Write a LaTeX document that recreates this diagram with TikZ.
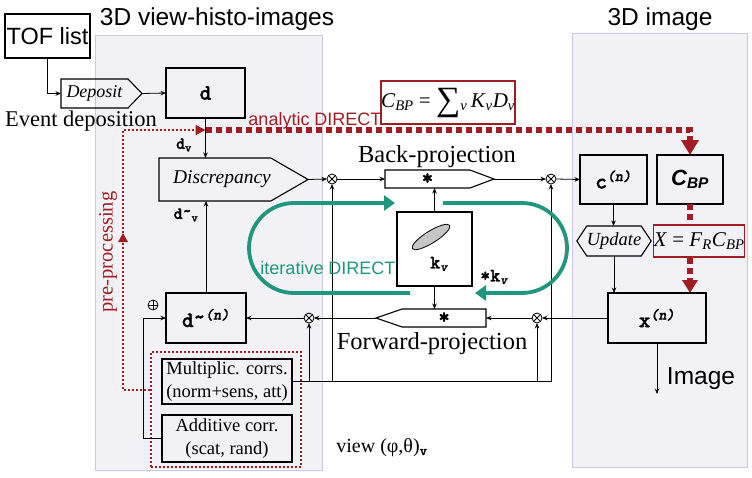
\documentclass[tikz,border=0pt]{standalone}
\usepackage{fontspec}
\setmainfont{Liberation Serif}
\setsansfont{Liberation Sans}
\newfontfamily\courb{lmmonolt10-bold.otf}[FakeBold=1.5]
\newfontfamily\courbi{lmmonolt10-boldoblique.otf}[FakeBold=1]
\usetikzlibrary{shapes.symbols,shapes.geometric,arrows.meta,calc}
\definecolor{dred}{RGB}{158,30,36}
\definecolor{tealc}{RGB}{32,150,126}
\definecolor{panelb}{RGB}{200,200,230}
\definecolor{panelf}{RGB}{242,242,246}
\newcommand{\fsz}[2]{\fontsize{#1pt}{#2pt}\selectfont}
\newcommand{\mytil}{\raisebox{0.35ex}{\textasciitilde}}
\newcommand{\ti}[1]{\textit{#1}}
\begin{document}
\begin{tikzpicture}[x=1pt,y=-1pt,
  box/.style={draw, line width=1.1pt, rectangle, inner sep=0pt, outer sep=0pt},
  sig/.style={draw, line width=1.1pt, signal, inner sep=0pt, outer sep=0pt},
  conn/.style={-{Stealth[length=5.5pt,width=4.5pt]}, line width=0.8pt},
  otm/.style={circle, draw, line width=0.8pt, minimum size=10pt, inner sep=0pt, outer sep=0pt,
    path picture={\draw[line width=0.8pt] (path picture bounding box.north west) -- (path picture bounding box.south east)
      (path picture bounding box.north east) -- (path picture bounding box.south west);}},
  opl/.style={circle, draw, line width=0.8pt, minimum size=10pt, inner sep=0pt, outer sep=0pt,
    path picture={\draw[line width=0.8pt] (path picture bounding box.north) -- (path picture bounding box.south)
      (path picture bounding box.east) -- (path picture bounding box.west);}},
  panel/.style={draw=panelb, fill=panelf, line width=0.8pt},
  bigsans/.style={font=\sffamily\fsz{24.5}{28}},
  bigserif/.style={font=\fsz{24.5}{28}},
  teallp/.style={draw=tealc, line width=3.8pt, -{Triangle[length=11pt,width=15pt]}},
  reddash/.style={draw=dred, line width=5.5pt, dash pattern=on 6pt off 4pt},
  reddot/.style={draw=dred, line width=2pt, dash pattern=on 2pt off 2pt},
  mono/.style={font=\courb\fsz{22}{26}}
]
\useasboundingbox (0,0) rectangle (752,477);
% panels
\path[panel] (95,35) rectangle (322,470);
\path[panel] (572,33) rectangle (747,467);
\node[bigsans, anchor=base] (t1) at (217,25) {3D view-histo-images};
\node[bigsans, anchor=base] (t2) at (660,25) {3D image};

% top-left
\node[box, minimum width=85pt, minimum height=44pt, font=\sffamily\fsz{23.5}{26}] (tof) at (47.5,36) {TOF list};
\node[sig, signal to=east, signal pointer angle=92, minimum width=81pt, minimum height=29pt, font=\itshape\fsz{18}{20}, anchor=west] (dep) at (61,93.5) {Deposit};
\node[box, minimum width=79pt, minimum height=50pt, mono] (dbox) at (205.5,93) {d};
\node[anchor=base, font=\fsz{22.5}{26}] (evt) at (81,126) {Event deposition};
\draw[conn] (tof.south) |- (dep.west);
\draw[conn] (dep.east) -- (dbox.west);

% analytic DIRECT
\node[draw=dred, line width=1.3pt, minimum width=126pt, minimum height=43pt, inner sep=0pt, font=\fsz{21}{24}] (cbpf) at (448,102.5) {\ti{C}\textsubscript{\ti{BP}} = \raisebox{-0.25ex}{\fsz{34}{34}∑}\textsubscript{\ti{v}}\,\ti{K}\textsubscript{\ti{v}}\ti{D}\textsubscript{\ti{v}}};
\node[anchor=base, font=\sffamily\fsz{18}{20}, text=dred] (ana) at (315,125) {analytic DIRECT};

% discrepancy row
\node[sig, signal to=east, signal pointer angle=60, minimum width=133pt, minimum height=43pt, font=\itshape\fsz{19.5}{22}, anchor=west] (disc) at (159,179.5) {\hspace*{14pt}Discrepancy};
\node[otm] (o1) at (332,179) {};
\node[sig, signal to=east, signal pointer angle=41, minimum width=109pt, minimum height=18pt, mono, anchor=west] (bp) at (385,179) {*};
\node[anchor=base, bigserif] (bpl) at (437,162) {Back-projection};
\node[otm] (o2) at (551,179) {};
\node[box, minimum width=67pt, minimum height=49pt] (cn) at (613.5,179.5) {\courb\fsz{22}{26}c\textsuperscript{\courbi (n)}};
\node[box, minimum width=66pt, minimum height=49pt] (cbp) at (690,179.5) {\sffamily\bfseries\itshape\fsz{22}{24}C\textsubscript{BP}};
\node[font=\courb\fsz{17}{20}] (dvl) at (184,145) {d\textsubscript{v}};

\draw[conn] (dbox.south) -- (dbox.south |- disc.north);
\draw[conn] (disc.east) -- (o1.west);
\draw[conn] (o1.east) -- (bp.west);
\draw[conn] (bp.east) -- (o2.west);
\draw[conn] (o2.east) -- (cn.west);

% update / formula / x(n)
\node[sig, signal to=east and west, signal pointer angle=113, minimum width=72pt, minimum height=30pt, font=\itshape\fsz{18.5}{20}] (upd) at (614,241) {Update};
\node[draw=dred, line width=1.3pt, minimum width=84pt, minimum height=32pt, inner sep=0pt, font=\fsz{21}{24}] (fx) at (699,241) {\ti{X} = \ti{F}\textsubscript{\ti{R}}\ti{C}\textsubscript{\ti{BP}}};
\node[box, minimum width=98pt, minimum height=50pt] (xn) at (657,318) {\courb\fsz{22}{26}x\textsuperscript{\courbi (n)}};
\node[anchor=base, bigsans] (img) at (701,384) {Image};
\coordinate (imgend) at (657,394);
\draw[conn] (cn.south) -- (cn.south |- upd.north);
\draw[conn] (upd.south) -- (upd.south |- xn.north);
\draw[conn] (xn.south) -- (imgend);

% kernel
\node[box, minimum width=75pt, minimum height=74pt] (kv) at (434.5,249) {};
\node[ellipse, draw, line width=0.8pt, fill=gray!45, minimum width=44pt, minimum height=12pt, inner sep=0pt, rotate=32] (ell) at (431,237) {};
\node[font=\courb\fsz{19}{22}] (kvl) at (439,264) {k\textsubscript{\courbi v}};
\node[font=\courb\fsz{19}{22}] (kvs) at (494,277) {*k\textsubscript{\courbi v}};

% forward row
\node[sig, signal to=west, signal pointer angle=38, minimum width=110pt, minimum height=18pt, mono, anchor=east] (fw) at (486,318) {*};
\node[anchor=base, bigserif] (fwl) at (432,349) {Forward-projection};
\node[otm] (o3) at (537,318) {};
\node[otm] (o4) at (309,318) {};
\node[box, minimum width=80pt, minimum height=50pt] (dtn) at (206,318) {\courb\fsz{22}{26}d\mytil\textsuperscript{\courbi (n)}};
\node[font=\courb\fsz{17}{20}] (dtvl) at (186,215) {d\mytil\textsubscript{v}};
\node[opl] (op) at (153,305) {};

\draw[conn] (kv.north) -- (kv.north |- bp.south);
\draw[conn] (kv.south) -- (kv.south |- fw.north);
\draw[conn] (xn.west) -- (o3.east);
\draw[conn] (o3.west) -- (fw.east);
\draw[conn] (fw.west) -- (o4.east);
\draw[conn] (o4.west) -- (dtn.east);
\draw[conn] (dtn.north) -- (dtn.north |- disc.south);

% corrections
\node[box, minimum width=130pt, minimum height=45pt, align=center, font=\fsz{18.5}{23}] (mul) at (227,381.5) {Multiplic. corrs.\\(norm+sens, att)};
\node[box, minimum width=130pt, minimum height=47pt, align=center, font=\fsz{18.5}{23}] (add) at (227,438.5) {Additive corr.\\(scat, rand)};
\node[reddot, rectangle, minimum width=150pt, minimum height=115pt, inner sep=0pt] (rr) at (226,409.5) {};
\node[anchor=base, font=\fsz{20}{24}] (vw) at (382,452) {view (φ,θ)\textsubscript{\courb v}};

\draw[conn] (add.west) -- ++(-19,0) |- (dtn.west);
\draw[line width=0.8pt] (mul.east) -- (mul.east -| o2.south);
\draw[conn] (mul.east -| o4.south) -- (o4.south);
\draw[conn] (mul.east -| o1.south) -- (o1.south);
\draw[conn] (mul.east -| o3.south) -- (o3.south);
\draw[conn] (mul.east -| o2.south) -- (o2.south);

% iterative DIRECT loops
\coordinate (la) at (410,293);
\coordinate (lb) at (395,203);
\coordinate (ra) at (443,203);
\coordinate (rb) at (475,293);
\draw[teallp] (la) -- (294,293) arc[start angle=90, end angle=270, radius=45] -- (lb);
\draw[teallp] (ra) -- (522,203) arc[start angle=270, end angle=450, radius=45] -- (rb);
\node[anchor=base, font=\sffamily\fsz{18}{20}, text=tealc] (itl) at (328,274) {iterative DIRECT};

% red analytic path
\coordinate (ast) at (205.5,130);
\draw[reddash, -{Triangle[length=15pt,width=17pt]}] (ast) -| (cbp.north);
\draw[reddash] (cbp.south) -- (cbp.south |- fx.north);
\draw[reddash, -{Triangle[length=13pt,width=15pt]}] (cbp.south |- fx.south) -- (cbp.south |- xn.north);
% pre-processing
\coordinate (pp1) at (123,390);
\draw[reddot, -{Triangle[length=10pt,width=10pt]}] (rr.west |- pp1) -- (pp1) |- (ast);
\draw[draw=none, fill=dred] (123,233) -- (128,242) -- (118,242) -- cycle;
\node[rotate=90, text=dred, font=\fsz{20.5}{24}] (ppl) at (108,252) {pre-processing};
\end{tikzpicture}
\end{document}
